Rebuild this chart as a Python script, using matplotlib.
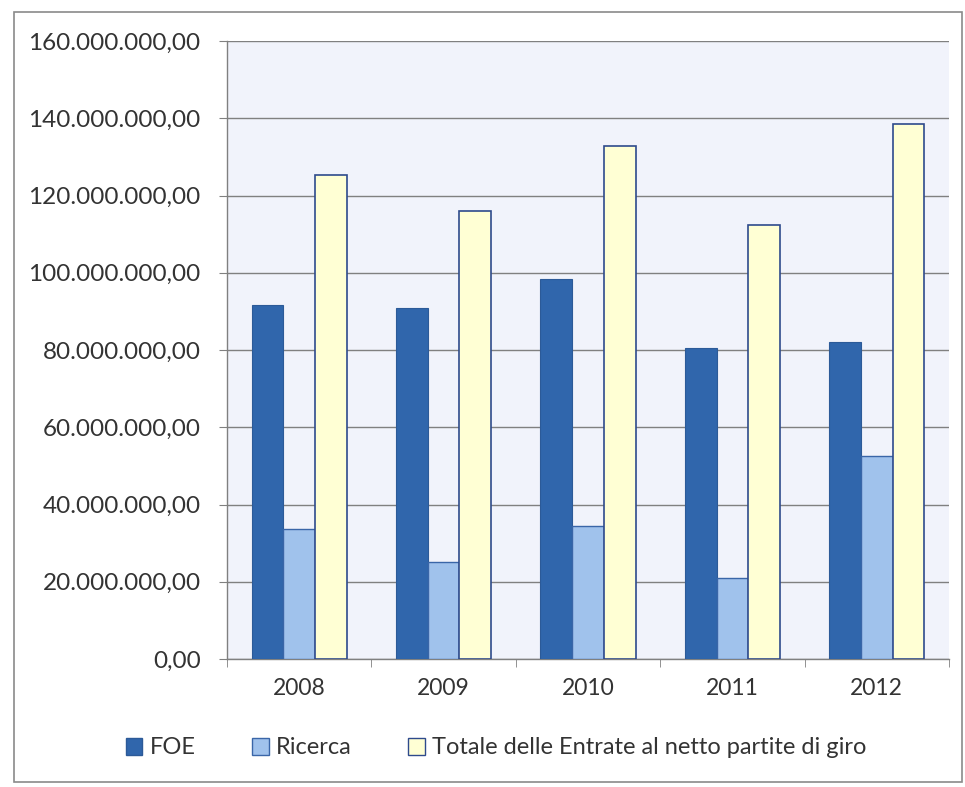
import matplotlib.pyplot as plt
import matplotlib.patches as mpatches
from matplotlib.ticker import FuncFormatter, MultipleLocator
import numpy as np

years = ["2008", "2009", "2010", "2011", "2012"]
foe = [91.6e6, 91.0e6, 98.3e6, 80.4e6, 82.2e6]
ricerca = [33.7e6, 25.0e6, 34.5e6, 21.1e6, 52.6e6]
totale = [125.3e6, 116.0e6, 132.9e6, 112.4e6, 138.5e6]
series_names = ["FOE", "Ricerca", "Totale delle Entrate al netto partite di giro"]

plt.rcParams["font.family"] = ["Lato", "DejaVu Sans"]

fig = plt.figure(figsize=(9.65, 7.87), dpi=100, facecolor="white")
ax = fig.add_axes([227 / 965, 1 - 659 / 787, (949 - 227) / 965, (659 - 41) / 787])
ax.set_facecolor("#f1f3fb")

x = np.arange(len(years))
w = 0.22
ax.bar(x - w, foe, w, color="#3066ac", edgecolor="#2c5a98", linewidth=0.8, zorder=3)
ax.bar(x, ricerca, w, color="#a0c2ec", edgecolor="#3a66a8", linewidth=1.0, zorder=3)
ax.bar(x + w, totale, w, color="#ffffd4", edgecolor="#2e4a8c", linewidth=1.2, zorder=3)

ax.set_xlim(-0.5, len(years) - 0.5)
ax.set_ylim(0, 160e6)
ax.yaxis.set_major_locator(MultipleLocator(20e6))


def it_fmt(v, pos):
    s = f"{v:,.2f}"
    return s.replace(",", "X").replace(".", ",").replace("X", ".")


ax.yaxis.set_major_formatter(FuncFormatter(it_fmt))
ax.grid(axis="y", color="#808080", linewidth=1.0, zorder=1)

ax.set_xticks(x)
ax.set_xticklabels(years)
ax.set_xticks(np.arange(len(years) + 1) - 0.5, minor=True)
ax.tick_params(axis="x", which="major", length=0, pad=14, labelsize=16.5, labelcolor="#333333")
ax.tick_params(axis="x", which="minor", length=6, color="#808080", direction="out")
ax.tick_params(axis="y", length=6, color="#808080", pad=13, labelsize=17.5, labelcolor="#333333")

for side in ["top", "right"]:
    ax.spines[side].set_visible(False)
for side in ["left", "bottom"]:
    ax.spines[side].set_color("#808080")
    ax.spines[side].set_linewidth(1.0)

handles = [
    mpatches.Patch(facecolor="#3066ac", edgecolor="#2c5a98"),
    mpatches.Patch(facecolor="#a0c2ec", edgecolor="#3a66a8"),
    mpatches.Patch(facecolor="#ffffd4", edgecolor="#2e4a8c"),
]
fig.legend(handles, series_names, loc="center", bbox_to_anchor=(496 / 965, 1 - 748 / 787),
           ncol=3, frameon=False, fontsize=17, handlelength=0.7, handleheight=0.7,
           handletextpad=0.3, columnspacing=2.4, labelcolor="#333333")

# outer chart border
fig.add_artist(mpatches.Rectangle((14 / 965, 1 - 782 / 787), (962 - 14) / 965, (782 - 12) / 787,
                                  transform=fig.transFigure, fill=False,
                                  edgecolor="#8a8a8a", linewidth=1.2))

fig.savefig("out.png", dpi=100, facecolor="white")
